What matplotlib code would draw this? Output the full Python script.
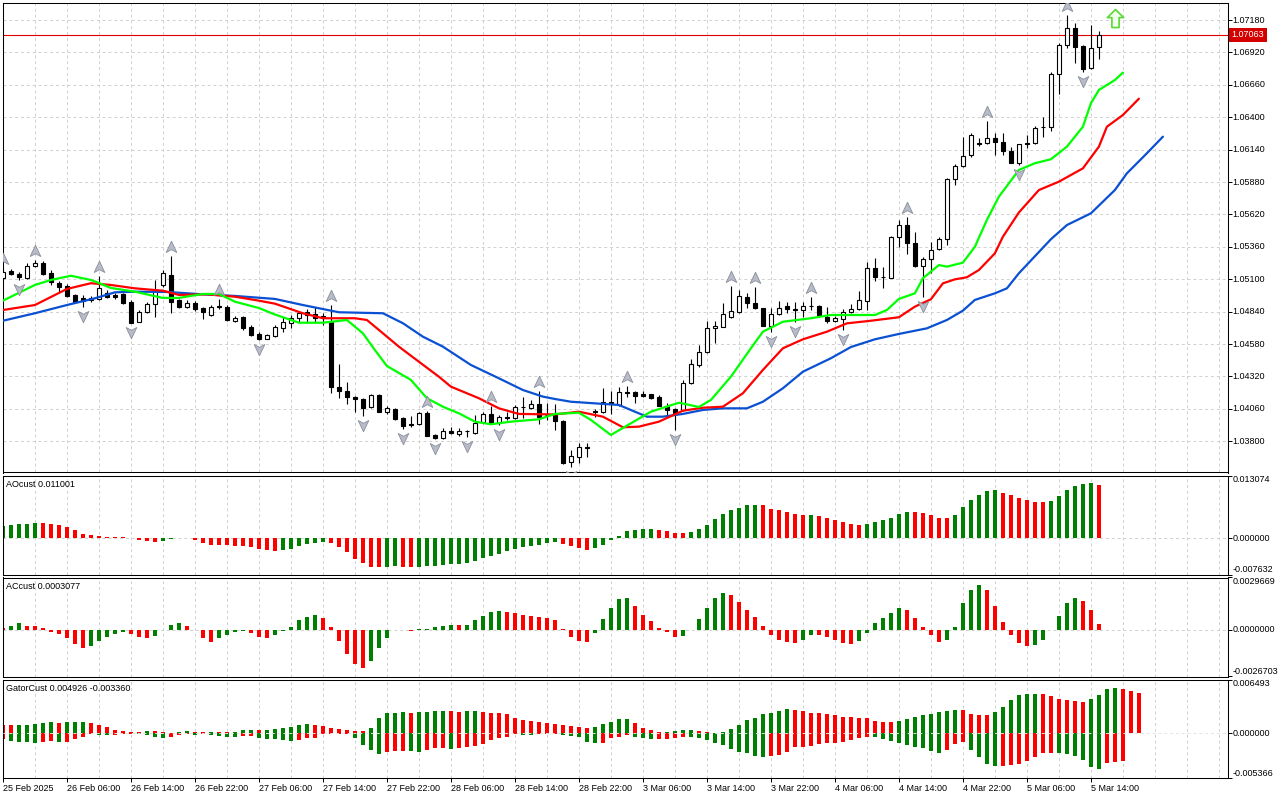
import numpy as np
import matplotlib
matplotlib.use("Agg")
import matplotlib.pyplot as plt
from matplotlib.path import Path
from matplotlib import transforms

plt.rcParams['font.family'] = ['Liberation Sans', 'DejaVu Sans']

# EURUSD H1 candles, 25 Feb 22:00 .. 5 Mar 15:00
opens = [
    1.05110, 1.05169, 1.05142, 1.05108, 1.05206, 1.05233, 1.05150, 1.05072, 1.05046, 1.04974,
    1.04950, 1.04934, 1.04942, 1.04990, 1.04974, 1.04982, 1.04920, 1.04759, 1.04840, 1.04901,
    1.05054, 1.05134, 1.04934, 1.04880, 1.04912, 1.04867, 1.04813, 1.04883, 1.04880, 1.04767,
    1.04795, 1.04719, 1.04661, 1.04623, 1.04645, 1.04706, 1.04751, 1.04787, 1.04840, 1.04821,
    1.04805, 1.04759, 1.04238, 1.04203, 1.04158, 1.04139, 1.04072, 1.04174, 1.04037, 1.04059,
    1.03989, 1.03938, 1.03936, 1.04029, 1.03850, 1.03824, 1.03882, 1.03858, 1.03882, 1.03868,
    1.03957, 1.04019, 1.03949, 1.03997, 1.03984, 1.04075, 1.04064, 1.04099, 1.04011, 1.04011,
    1.03962, 1.03636, 1.03676, 1.03748, 1.04043, 1.04032, 1.04117, 1.04091, 1.04198, 1.04198,
    1.04177, 1.04177, 1.04153, 1.04083, 1.04057, 1.04051, 1.04270, 1.04412, 1.04519, 1.04706,
    1.04719, 1.04795, 1.04840, 1.04960, 1.04912, 1.04867, 1.04727, 1.04821, 1.04885, 1.04860,
    1.04853, 1.04889, 1.04885, 1.04800, 1.04767, 1.04779, 1.04835, 1.04859, 1.04928, 1.05188,
    1.05122, 1.05112, 1.05441, 1.05535, 1.05389, 1.05209, 1.05260, 1.05340, 1.05421, 1.05902,
    1.06009, 1.06097, 1.06192, 1.06191, 1.06231, 1.06204, 1.06129, 1.06035, 1.06193, 1.06191,
    1.06318, 1.06324, 1.06747, 1.06980, 1.07114, 1.06972, 1.06793, 1.06961]
highs = [
    1.05190, 1.05180, 1.05158, 1.05228, 1.05255, 1.05247, 1.05174, 1.05086, 1.05062, 1.04982,
    1.04974, 1.04966, 1.05126, 1.05014, 1.04990, 1.04990, 1.04934, 1.04853, 1.04917, 1.05094,
    1.05174, 1.05287, 1.04942, 1.04934, 1.04926, 1.04877, 1.04893, 1.04942, 1.04893, 1.04805,
    1.04805, 1.04733, 1.04677, 1.04661, 1.04733, 1.04800, 1.04813, 1.04848, 1.04859, 1.04880,
    1.04827, 1.04893, 1.04420, 1.04278, 1.04163, 1.04147, 1.04179, 1.04179, 1.04083, 1.04067,
    1.03995, 1.04003, 1.04031, 1.04039, 1.03858, 1.03904, 1.03917, 1.03904, 1.03890, 1.04011,
    1.04037, 1.04083, 1.04011, 1.04037, 1.04091, 1.04158, 1.04131, 1.04206, 1.04109, 1.04099,
    1.03971, 1.03730, 1.03784, 1.03789, 1.04057, 1.04225, 1.04206, 1.04238, 1.04243, 1.04203,
    1.04203, 1.04183, 1.04171, 1.04109, 1.04063, 1.04292, 1.04458, 1.04572, 1.04765, 1.04765,
    1.04912, 1.05046, 1.05014, 1.04987, 1.05040, 1.04873, 1.04867, 1.04928, 1.04920, 1.04920,
    1.04920, 1.04960, 1.04893, 1.04880, 1.04805, 1.04859, 1.04901, 1.05006, 1.05236, 1.05268,
    1.05201, 1.05450, 1.05576, 1.05602, 1.05482, 1.05281, 1.05397, 1.05441, 1.05913, 1.06023,
    1.06244, 1.06271, 1.06236, 1.06370, 1.06276, 1.06271, 1.06164, 1.06189, 1.06258, 1.06330,
    1.06400, 1.06766, 1.06998, 1.07221, 1.07154, 1.06980, 1.07140, 1.07092]
lows = [
    1.05110, 1.05132, 1.05095, 1.05102, 1.05198, 1.05134, 1.05054, 1.05000, 1.04958, 1.04909,
    1.04875, 1.04917, 1.04934, 1.04950, 1.04942, 1.04901, 1.04749, 1.04755, 1.04829, 1.04795,
    1.05038, 1.04832, 1.04869, 1.04869, 1.04845, 1.04779, 1.04805, 1.04859, 1.04765, 1.04757,
    1.04693, 1.04645, 1.04613, 1.04620, 1.04634, 1.04679, 1.04706, 1.04759, 1.04751, 1.04747,
    1.04733, 1.04190, 1.04145, 1.04099, 1.04037, 1.04003, 1.04067, 1.04035, 1.04019, 1.03971,
    1.03898, 1.03917, 1.03930, 1.03842, 1.03814, 1.03818, 1.03858, 1.03842, 1.03830, 1.03858,
    1.03951, 1.03938, 1.03930, 1.03971, 1.03979, 1.03984, 1.04059, 1.03938, 1.03971, 1.03890,
    1.03621, 1.03596, 1.03623, 1.03676, 1.03997, 1.04027, 1.04019, 1.04083, 1.04153, 1.04104,
    1.04158, 1.04139, 1.04079, 1.03997, 1.03890, 1.04043, 1.04263, 1.04394, 1.04512, 1.04591,
    1.04713, 1.04789, 1.04833, 1.04867, 1.04861, 1.04721, 1.04679, 1.04813, 1.04827, 1.04759,
    1.04800, 1.04853, 1.04805, 1.04751, 1.04760, 1.04693, 1.04829, 1.04853, 1.04853, 1.05086,
    1.05027, 1.05106, 1.05361, 1.05303, 1.05201, 1.04960, 1.05150, 1.05335, 1.05375, 1.05856,
    1.06001, 1.06079, 1.06169, 1.06185, 1.06097, 1.06097, 1.06029, 1.06017, 1.06151, 1.06185,
    1.06244, 1.06292, 1.06584, 1.06953, 1.06833, 1.06766, 1.06787, 1.06865]
closes = [
    1.05158, 1.05140, 1.05116, 1.05206, 1.05233, 1.05142, 1.05080, 1.05040, 1.04966, 1.04920,
    1.04928, 1.04950, 1.05030, 1.04960, 1.04958, 1.04912, 1.04751, 1.04840, 1.04901, 1.05014,
    1.05150, 1.04920, 1.04880, 1.04912, 1.04861, 1.04840, 1.04877, 1.04877, 1.04773, 1.04792,
    1.04706, 1.04653, 1.04618, 1.04650, 1.04719, 1.04759, 1.04787, 1.04827, 1.04813, 1.04787,
    1.04789, 1.04233, 1.04203, 1.04153, 1.04139, 1.04069, 1.04171, 1.04037, 1.04064, 1.03976,
    1.03925, 1.03932, 1.04024, 1.03845, 1.03824, 1.03882, 1.03864, 1.03885, 1.03880, 1.03949,
    1.04019, 1.03944, 1.03997, 1.03984, 1.04077, 1.04072, 1.04099, 1.03992, 1.04008, 1.03965,
    1.03628, 1.03682, 1.03751, 1.03750, 1.04037, 1.04117, 1.04099, 1.04193, 1.04190, 1.04166,
    1.04166, 1.04145, 1.04083, 1.04051, 1.04024, 1.04270, 1.04417, 1.04519, 1.04706, 1.04725,
    1.04821, 1.04845, 1.04966, 1.04907, 1.04867, 1.04727, 1.04821, 1.04867, 1.04861, 1.04857,
    1.04885, 1.04887, 1.04813, 1.04767, 1.04787, 1.04835, 1.04859, 1.04934, 1.05188, 1.05120,
    1.05120, 1.05441, 1.05535, 1.05389, 1.05206, 1.05263, 1.05335, 1.05421, 1.05905, 1.06009,
    1.06089, 1.06258, 1.06189, 1.06231, 1.06204, 1.06129, 1.06035, 1.06183, 1.06189, 1.06316,
    1.06319, 1.06747, 1.06980, 1.07114, 1.06966, 1.06785, 1.06953, 1.07063]

# Alligator lines (bar position, price)
jaw_x = [0, 4, 8, 11.5, 14, 16.5, 20.5, 25, 29, 34, 37.5, 42, 47.5, 50, 52.5, 55, 58.5, 62, 65,
         67.5, 69, 71, 77, 79, 80.5, 82.5, 85, 87.5, 90, 93, 95, 97.5, 100, 103.5, 106, 109, 112,
         115.5, 118, 120, 121.5, 124, 125.5, 127, 131, 133, 136, 139, 140.5, 143, 145]
jaw_y = [1.04767, 1.04827, 1.04893, 1.04947, 1.04995, 1.05000, 1.04998, 1.04979, 1.04966, 1.04942,
         1.04893, 1.04835, 1.04827, 1.04747, 1.04639, 1.04559, 1.04412, 1.04305, 1.04211, 1.04158,
         1.04139, 1.04117, 1.04091, 1.04037, 1.03997, 1.03997, 1.04019, 1.04051, 1.04064, 1.04064,
         1.04117, 1.04225, 1.04358, 1.04466, 1.04556, 1.04618, 1.04661, 1.04706, 1.04773, 1.04848,
         1.04934, 1.04987, 1.05027, 1.05148, 1.05421, 1.05535, 1.05629, 1.05816, 1.05950, 1.06111,
         1.06244]
teeth_x = [0, 4, 8, 11, 13.5, 16.5, 20, 22, 25.5, 29, 32, 34, 37.5, 40, 44, 45.5, 47, 49.5, 52,
           54.5, 56, 59.5, 62, 64.5, 69, 72, 75, 77.5, 79.5, 82, 85, 87.5, 90, 92.5, 95, 97.5, 100,
           103, 105.5, 108.5, 112, 114, 116, 117.5, 119, 120.5, 122, 124, 125, 127, 129.5, 132,
           135, 137, 138, 140, 142]
teeth_y = [1.04853, 1.04893, 1.05022, 1.05068, 1.05054, 1.05027, 1.05008, 1.04974, 1.04979, 1.04960,
           1.04928, 1.04904, 1.04827, 1.04787, 1.04787, 1.04773, 1.04693, 1.04559, 1.04438, 1.04318,
           1.04238, 1.04145, 1.04064, 1.04019, 1.04015, 1.04037, 1.03997, 1.03912, 1.03917, 1.03957,
           1.04045, 1.04069, 1.04077, 1.04185, 1.04372, 1.04546, 1.04618, 1.04679, 1.04746, 1.04767,
           1.04795, 1.04880, 1.04939, 1.05067, 1.05099, 1.05116, 1.05174, 1.05308, 1.05441, 1.05636,
           1.05816, 1.05883, 1.05990, 1.06164, 1.06324, 1.06418, 1.06549]
lips_x = [0, 4, 6, 8.5, 11, 12, 13.5, 16.5, 20, 22, 25, 27, 29, 32, 34, 37, 40, 43, 45, 46.5, 48,
          51, 53, 55, 57, 59, 61, 63.5, 67, 69, 72, 73.5, 76, 78.5, 81, 84.5, 87, 88.5, 91, 93.5,
          95, 97.5, 101, 103.5, 106.5, 109, 110.5, 112, 114, 115, 117, 118, 120, 121.5, 123, 124.5,
          127, 129, 131, 133, 135, 136, 137, 139, 140]
lips_y = [1.04928, 1.05054, 1.05094, 1.05128, 1.05094, 1.05070, 1.05030, 1.05000, 1.04950, 1.04950,
          1.04982, 1.04982, 1.04920, 1.04869, 1.04817, 1.04751, 1.04751, 1.04773, 1.04666, 1.04532,
          1.04404, 1.04292, 1.04145, 1.04077, 1.04024, 1.03957, 1.03936, 1.03957, 1.03976, 1.04019,
          1.04029, 1.03971, 1.03850, 1.03944, 1.04037, 1.04109, 1.04075, 1.04131, 1.04318, 1.04546,
          1.04679, 1.04759, 1.04787, 1.04813, 1.04813, 1.04813, 1.04853, 1.04942, 1.04987, 1.05108,
          1.05214, 1.05201, 1.05233, 1.05361, 1.05576, 1.05763, 1.05977, 1.06031, 1.06063, 1.06164,
          1.06324, 1.06512, 1.06619, 1.06699, 1.06758]

fractal_up = [0, 4, 12, 21, 27, 41, 53, 61, 67, 78, 91, 94, 101, 113, 123, 133]
fractal_down = [2, 10, 16, 32, 45, 50, 54, 58, 62, 71, 84, 96, 99, 105, 115, 127, 135]
signal_bar, signal_price = 139, 1.07193
last_price = 1.07063

ao_vals = [
    0.00256, 0.00270, 0.00290, 0.00300, 0.00320, 0.00315, 0.00290, 0.00270, 0.00235, 0.00164,
    0.00093, 0.00057, 0.00036, 0.00028, 0.00020, 0.00014, -0.00010, -0.00036, -0.00064, -0.00085,
    -0.00064, -0.00014, 0.00005, 0.00002, -0.00036, -0.00107, -0.00150, -0.00152, -0.00155, -0.00170,
    -0.00175, -0.00185, -0.00235, -0.00250, -0.00263, -0.00256, -0.00228, -0.00170, -0.00128, -0.00107,
    -0.00085, -0.00107, -0.00190, -0.00300, -0.00430, -0.00530, -0.00600, -0.00610, -0.00598, -0.00595,
    -0.00600, -0.00605, -0.00600, -0.00590, -0.00585, -0.00570, -0.00550, -0.00545, -0.00530, -0.00480,
    -0.00420, -0.00380, -0.00340, -0.00280, -0.00230, -0.00190, -0.00170, -0.00150, -0.00110, -0.00085,
    -0.00130, -0.00170, -0.00210, -0.00260, -0.00210, -0.00150, -0.00036, 0.00043, 0.00150, 0.00170,
    0.00180, 0.00190, 0.00170, 0.00140, 0.00100, 0.00098, 0.00120, 0.00190, 0.00270, 0.00400,
    0.00500, 0.00590, 0.00630, 0.00680, 0.00700, 0.00680, 0.00610, 0.00590, 0.00550, 0.00500,
    0.00480, 0.00485, 0.00460, 0.00420, 0.00380, 0.00330, 0.00290, 0.00270, 0.00290, 0.00330,
    0.00380, 0.00420, 0.00500, 0.00550, 0.00540, 0.00530, 0.00480, 0.00420, 0.00410, 0.00480,
    0.00640, 0.00790, 0.00890, 0.00980, 0.01000, 0.00950, 0.00900, 0.00840, 0.00800, 0.00760,
    0.00750, 0.00780, 0.00870, 0.01000, 0.01080, 0.01120, 0.01150, 0.011001]
ao_colors = ("gggggrrrrr" "rrrrrrrrrr" "gggrrrrrrr" "rrrrrggggg" "grrrrrrrgg" "rrgggggggg"
             "gggggggggg" "rrrrgggggg" "ggrrrrgggg" "gggggrrrrr" "rgrrrrrrgg" "ggggrrrrrg"
             "gggggrrrrr" "rggggggr")

ac_vals = [
    0.00010, 0.00023, 0.00035, 0.00023, 0.00022, 0.00008, -0.00013, -0.00025, -0.00048, -0.00083,
    -0.00102, -0.00094, -0.00067, -0.00044, -0.00025, -0.00013, -0.00025, -0.00044, -0.00048, -0.00038,
    -0.00004, 0.00029, 0.00035, 0.00023, -0.00004, -0.00048, -0.00071, -0.00048, -0.00033, -0.00013,
    -0.00010, -0.00021, -0.00044, -0.00048, -0.00033, -0.00010, 0.00015, 0.00054, 0.00073, 0.00081,
    0.00067, 0.00015, -0.00067, -0.00140, -0.00195, -0.00217, -0.00180, -0.00105, -0.00048, -0.00004,
    -0.00005, -0.00006, 0.00002, 0.00006, 0.00012, 0.00020, 0.00029, 0.00027, 0.00029, 0.00052,
    0.00075, 0.00100, 0.00104, 0.00103, 0.00092, 0.00086, 0.00075, 0.00069, 0.00068, 0.00052,
    0.00006, -0.00044, -0.00067, -0.00071, -0.00019, 0.00058, 0.00125, 0.00173, 0.00182, 0.00132,
    0.00086, 0.00048, 0.00010, -0.00013, -0.00044, -0.00038, -0.00002, 0.00058, 0.00125, 0.00182,
    0.00207, 0.00198, 0.00160, 0.00110, 0.00073, 0.00023, -0.00033, -0.00061, -0.00071, -0.00079,
    -0.00061, -0.00033, -0.00033, -0.00044, -0.00061, -0.00079, -0.00084, -0.00067, -0.00021, 0.00040,
    0.00067, 0.00092, 0.00121, 0.00110, 0.00067, 0.00012, -0.00033, -0.00073, -0.00061, 0.00017,
    0.00150, 0.00225, 0.00253, 0.00225, 0.00132, 0.00046, -0.00033, -0.00079, -0.00096, -0.00086,
    -0.00061, -0.00004, 0.00075, 0.00150, 0.00179, 0.00161, 0.00110, 0.0003077]
ac_colors = ("rggrrrrrrr" "rgggggrrrg" "gggrrrrggg" "grrrgggggg" "rrrrrrgggg" "rrgggggrgg"
             "gggrrrrrrr" "rrrrgggggr" "rrrrrggggg" "grrrrrrrrr" "ggrrrrrggg" "gggrrrrrgg"
             "gggrrrrrrg" "gggggrrr")

gator_up = [
    0.00105, 0.00098, 0.00100, 0.00105, 0.00112, 0.00120, 0.00132, 0.00130, 0.00132, 0.00134,
    0.00135, 0.00128, 0.00100, 0.00076, 0.00040, 0.00032, 0.00022, 0.00020, 0.00032, 0.00024,
    0.00012, 0.00010, 0.00020, 0.00032, 0.00020, 0.00012, 0.00020, 0.00018, 0.00012, 0.00020,
    0.00036, 0.00044, 0.00036, 0.00044, 0.00048, 0.00060, 0.00072, 0.00096, 0.00108, 0.00104,
    0.00084, 0.00060, 0.00052, 0.00040, 0.00032, 0.00030, 0.00068, 0.00188, 0.00240, 0.00250,
    0.00260, 0.00250, 0.00260, 0.00263, 0.00270, 0.00275, 0.00273, 0.00263, 0.00265, 0.00267,
    0.00260, 0.00250, 0.00240, 0.00228, 0.00188, 0.00164, 0.00148, 0.00140, 0.00128, 0.00116,
    0.00100, 0.00084, 0.00080, 0.00060, 0.00080, 0.00110, 0.00140, 0.00170, 0.00175, 0.00130,
    0.00060, 0.00040, 0.00020, 0.00022, 0.00025, 0.00040, 0.00042, 0.00030, 0.00015, 0.00010,
    0.00018, 0.00048, 0.00100, 0.00156, 0.00188, 0.00228, 0.00250, 0.00275, 0.00290, 0.00285,
    0.00275, 0.00250, 0.00240, 0.00228, 0.00226, 0.00200, 0.00196, 0.00188, 0.00180, 0.00148,
    0.00140, 0.00138, 0.00148, 0.00168, 0.00196, 0.00216, 0.00228, 0.00260, 0.00270, 0.00283,
    0.00280, 0.00235, 0.00220, 0.00218, 0.00260, 0.00320, 0.00400, 0.00460, 0.00470, 0.00480,
    0.00470, 0.00455, 0.00420, 0.00400, 0.00385, 0.00380, 0.00410, 0.00460, 0.00530, 0.00550,
    0.00540, 0.00510, 0.004926]
gator_up_colors = ("rrgggggrgg" "grrrrrrrgr" "rrggrrgrrg" "ggrggggggr" "rrrrrrgggg" "grggggrrgg"
                   "rrrrrrrrrr" "rrrrgggggr" "rrrggggrrr" "gggggggggr" "rrrrrrrrrr" "rrgggggggg"
                   "rrrrgggggg" "rrrrrrgggg" "rrr")
gator_dn = [
    -0.00072, -0.00092, -0.00100, -0.00102, -0.00116, -0.00100, -0.00092, -0.00100, -0.00098, -0.00072,
    -0.00044, -0.00012, -0.00020, -0.00022, -0.00020, -0.00010, -0.00005, -0.00012, -0.00020, -0.00044,
    -0.00052, -0.00044, -0.00024, -0.00012, -0.00020, -0.00012, -0.00020, -0.00032, -0.00044, -0.00046,
    -0.00036, -0.00034, -0.00060, -0.00062, -0.00072, -0.00084, -0.00092, -0.00080, -0.00052, -0.00050,
    -0.00012, -0.00010, -0.00008, -0.00005, -0.00060, -0.00140, -0.00200, -0.00243, -0.00220, -0.00210,
    -0.00208, -0.00210, -0.00220, -0.00200, -0.00180, -0.00178, -0.00190, -0.00180, -0.00164, -0.00150,
    -0.00124, -0.00084, -0.00050, -0.00044, -0.00012, -0.00014, -0.00016, -0.00010, -0.00008, -0.00005,
    -0.00020, -0.00030, -0.00040, -0.00100, -0.00110, -0.00110, -0.00050, -0.00040, -0.00020, -0.00040,
    -0.00050, -0.00070, -0.00068, -0.00066, -0.00060, -0.00040, -0.00045, -0.00050, -0.00080, -0.00110,
    -0.00140, -0.00190, -0.00220, -0.00236, -0.00270, -0.00280, -0.00270, -0.00260, -0.00220, -0.00164,
    -0.00160, -0.00150, -0.00130, -0.00116, -0.00110, -0.00100, -0.00084, -0.00052, -0.00044, -0.00046,
    -0.00072, -0.00092, -0.00120, -0.00140, -0.00164, -0.00170, -0.00210, -0.00236, -0.00200, -0.00124,
    -0.00100, -0.00200, -0.00280, -0.00370, -0.00390, -0.00388, -0.00380, -0.00370, -0.00330, -0.00280,
    -0.00236, -0.00234, -0.00236, -0.00243, -0.00270, -0.00320, -0.00410, -0.00430, -0.00360, -0.00340,
    -0.00336]
gator_dn_colors = ("rggggrrgrr" "rrggrrrggg" "grrrgrgggg" "rrgggggrrr" "rrrrggggrr" "rggrrrgrrr"
                   "rrrrrggrrr" "gggggrrrrg" "ggrrrrgggg" "ggggggrrrr" "rrrrrrrrrg" "ggggggggrr"
                   "rggggrrrrr" "rrggggggrr" "r")

price_ticks = [1.03800, 1.04060, 1.04320, 1.04580, 1.04840, 1.05100, 1.05360,
               1.05620, 1.05880, 1.06140, 1.06400, 1.06660, 1.06920, 1.07180]
time_labels = ["25 Feb 2025", "26 Feb 06:00", "26 Feb 14:00", "26 Feb 22:00", "27 Feb 06:00",
               "27 Feb 14:00", "27 Feb 22:00", "28 Feb 06:00", "28 Feb 14:00", "28 Feb 22:00",
               "3 Mar 06:00", "3 Mar 14:00", "3 Mar 22:00", "4 Mar 06:00", "4 Mar 14:00",
               "4 Mar 22:00", "5 Mar 06:00", "5 Mar 14:00"]
time_label_bars = list(range(0, 137, 8))

GREEN, RED = '#008000', '#ff0000'
GRID = '#d0d0d0'
FS = 6.5
W, H = 1280, 800

fig = plt.figure(figsize=(12.8, 8), dpi=100)


def panel(top, bottom):
    ax = fig.add_axes([2.5 / W, 1 - bottom / H, 1225 / W, (bottom - top) / H])
    ax.set_xlim(-0.05, -0.05 + 1225 / 8)
    for s in ax.spines.values():
        s.set_linewidth(0.75)
        s.set_color('black')
    for gx in range(0, 154, 4):
        ax.axvline(gx, color=GRID, lw=0.7, ls=(0, (3, 3)), zorder=0)
    ax.set_xticks([])
    ax.yaxis.tick_right()
    ax.tick_params(axis='y', length=3, width=0.7, labelright=False)
    return ax


def right_label(ax, y, text, va='center'):
    tr = transforms.blended_transform_factory(ax.transAxes, ax.transData)
    ax.text(1 + 5 / 1225, y, text, transform=tr, fontsize=FS, va=va, ha='left', clip_on=False)


def to_colors(s):
    return [GREEN if ch == 'g' else RED for ch in s]


# ---- main price panel ----
ax = panel(2.5, 472.5)
ax.set_ylim(1.03549, 1.07321)
for p in price_ticks:
    ax.axhline(p, color=GRID, lw=0.7, ls=(0, (3, 3)), zorder=0)
ax.set_yticks(price_ticks)
for p in price_ticks:
    right_label(ax, p, f"{p:.5f}")

o, h, l, c = map(np.array, (opens, highs, lows, closes))
idx = np.arange(len(o))
ax.axhline(last_price, color='#e00000', lw=0.8, zorder=1)
ax.vlines(idx, l, h, color='black', lw=0.8, zorder=3)
bull = c >= o
ax.bar(idx, np.abs(c - o), bottom=np.minimum(o, c), width=0.6,
       color=np.where(bull, 'white', 'black'), edgecolor='black', linewidth=0.8, zorder=4)

line_kw = dict(lw=1.6, zorder=5, solid_joinstyle='round', solid_capstyle='round')
ax.plot(jaw_x, jaw_y, color='#0a50d2', **line_kw)
ax.plot(teeth_x, teeth_y, color='#ff0000', **line_kw)
ax.plot(lips_x, lips_y, color='#00ff00', **line_kw)

up_arrow = Path([(0, 1), (0.85, -0.8), (0, -0.35), (-0.85, -0.8), (0, 1)],
                [Path.MOVETO, Path.LINETO, Path.LINETO, Path.LINETO, Path.CLOSEPOLY])
dn_arrow = Path([(0, -1), (0.85, 0.8), (0, 0.35), (-0.85, 0.8), (0, -1)],
                [Path.MOVETO, Path.LINETO, Path.LINETO, Path.LINETO, Path.CLOSEPOLY])
up_tr = transforms.offset_copy(ax.transData, fig=fig, x=0, y=9, units='dots')
dn_tr = transforms.offset_copy(ax.transData, fig=fig, x=0, y=-9, units='dots')
frac_kw = dict(ls='none', ms=9, mfc='#b8bcc8', mec='#8a8e9c', mew=0.6, zorder=6)
ax.plot(fractal_up, h[fractal_up], marker=up_arrow, transform=up_tr, **frac_kw)
ax.plot(fractal_down, l[fractal_down], marker=dn_arrow, transform=dn_tr, **frac_kw)

sig = Path([(0, 1), (0.9, 0.1), (0.4, 0.1), (0.4, -1), (-0.4, -1), (-0.4, 0.1), (-0.9, 0.1), (0, 1)],
           [Path.MOVETO] + [Path.LINETO] * 6 + [Path.CLOSEPOLY])
ax.plot([signal_bar], [signal_price], ls='none', marker=sig, ms=13, mfc='#f2ffec',
        mec='#5ad836', mew=1.2, zorder=6)

tr = transforms.blended_transform_factory(ax.transAxes, ax.transData)
ax.text(1 + 4 / 1225, last_price, f"{last_price:.5f}", transform=tr, fontsize=FS, color='white',
        va='center', ha='left', clip_on=False, zorder=10,
        bbox=dict(boxstyle='square,pad=0.28', fc='#d40000', ec='none'))

# ---- indicator panels ----
sub = [
    (475.5, 574.5, (-0.007632, 0.013074), "%.6f", "AOcust 0.011001"),
    (577.5, 676.5, (-0.0026703, 0.0029669), "%.7f", "ACcust 0.0003077"),
    (679.5, 778.0, (-0.005366, 0.006493), "%.6f", "GatorCust 0.004926 -0.003360"),
]
axes_sub = []
for top, bottom, (lo, hi), fmt, title in sub:
    a = panel(top, bottom)
    a.set_ylim(lo, hi)
    a.set_yticks([lo, 0, hi])
    right_label(a, hi, fmt % hi, va='top')
    right_label(a, 0, fmt % 0)
    right_label(a, lo, fmt % lo, va='bottom')
    a.text(3.5 / 1225, 1 - 9 / (bottom - top), title, transform=a.transAxes,
           fontsize=FS, va='center', ha='left')
    axes_sub.append(a)

ao_ax, ac_ax, gt_ax = axes_sub
ao_ax.axhline(0, color=GRID, lw=0.7, ls=(0, (3, 3)), zorder=0)
ao_ax.bar(np.arange(len(ao_vals)), ao_vals, width=0.5, color=to_colors(ao_colors), zorder=2)
ac_ax.axhline(0, color=GRID, lw=0.7, ls=(0, (3, 3)), zorder=0)
ac_ax.bar(np.arange(len(ac_vals)), ac_vals, width=0.5, color=to_colors(ac_colors), zorder=2)
gt_ax.bar(np.arange(len(gator_up)), gator_up, width=0.5, color=to_colors(gator_up_colors), zorder=2)
gt_ax.bar(np.arange(len(gator_dn)), gator_dn, width=0.5, color=to_colors(gator_dn_colors), zorder=2)
gt_ax.axhline(0, color='#e4e4e4', lw=0.7, ls=(0, (3, 3)), zorder=3)

gt_ax.set_xticks(time_label_bars)
gt_ax.set_xticklabels(time_labels, ha='left', fontsize=FS)
gt_ax.tick_params(axis='x', length=3, width=0.7, pad=1.5)

fig.savefig("out.png", dpi=100)
